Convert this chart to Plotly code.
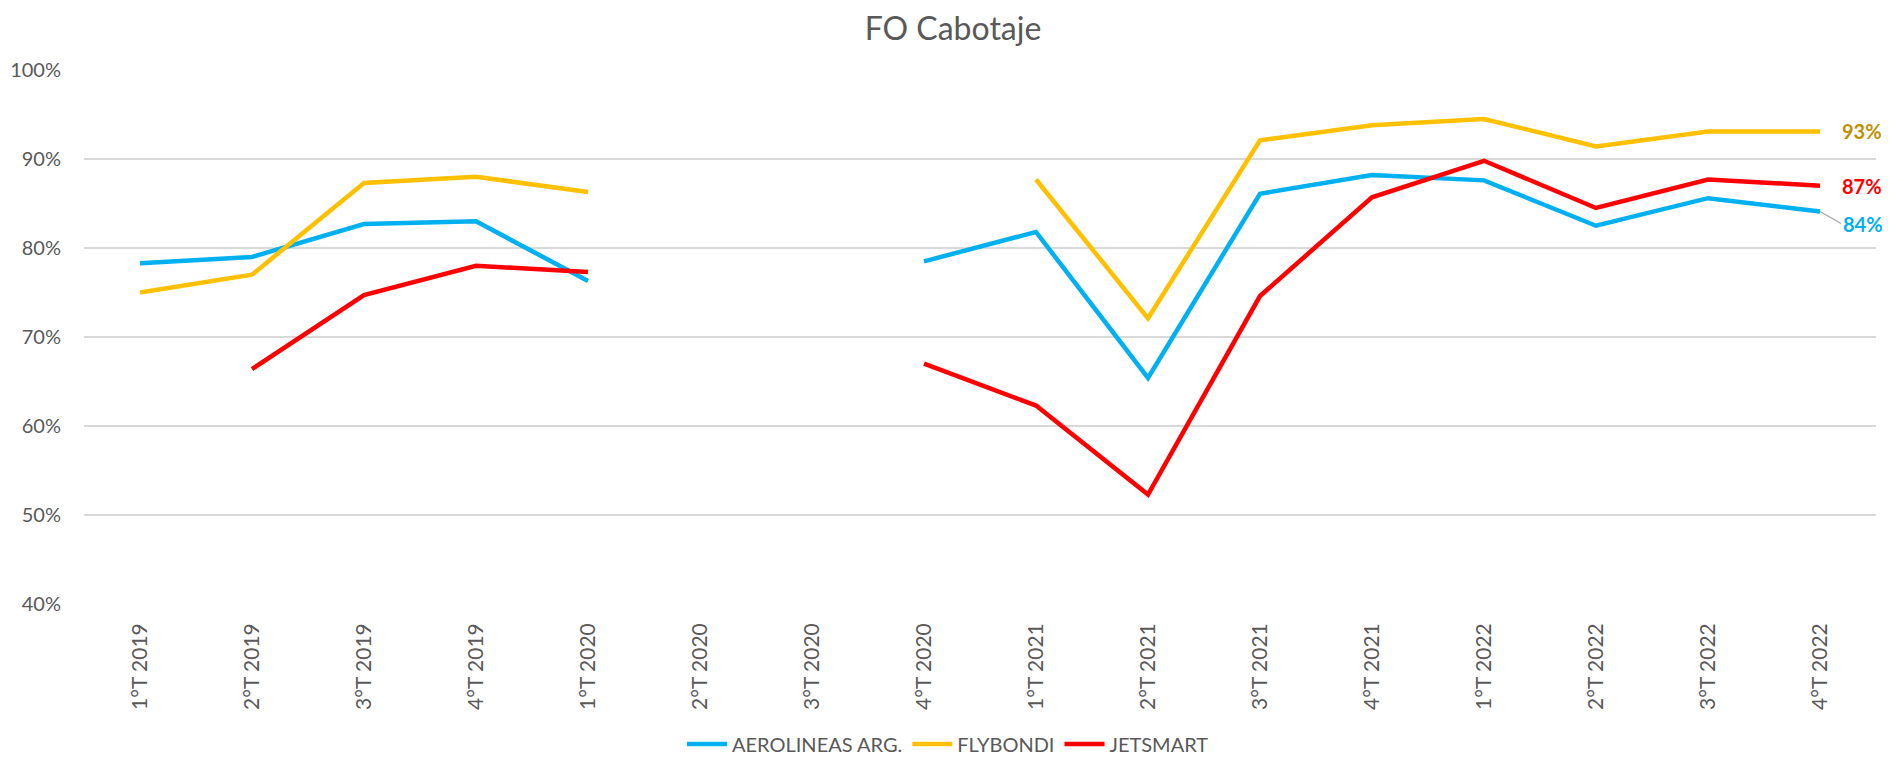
import plotly.graph_objects as go

categories = ["1°T 2019", "2°T 2019", "3°T 2019", "4°T 2019", "1°T 2020", "2°T 2020",
              "3°T 2020", "4°T 2020", "1°T 2021", "2°T 2021", "3°T 2021", "4°T 2021",
              "1°T 2022", "2°T 2022", "3°T 2022", "4°T 2022"]

aerolineas = [0.783, 0.790, 0.827, 0.830, 0.763, None, None, 0.785, 0.818, 0.654,
              0.861, 0.882, 0.876, 0.825, 0.856, 0.841]
flybondi = [0.750, 0.770, 0.873, 0.880, 0.863, None, None, None, 0.877, 0.721,
            0.921, 0.938, 0.945, 0.914, 0.931, 0.931]
jetsmart = [None, 0.664, 0.747, 0.780, 0.773, None, None, 0.670, 0.623, 0.523,
            0.746, 0.857, 0.898, 0.845, 0.877, 0.870]

series_names = ["AEROLINEAS ARG.", "FLYBONDI", "JETSMART"]
series_colors = ["#00B0F0", "#FFC000", "#FF0000"]
label_colors = ["#00B0F0", "#BF9000", "#FF0000"]
y_ticks = [0.4, 0.5, 0.6, 0.7, 0.8, 0.9, 1.0]

FONT = "Lato"
GREY = "#595959"

# page body has an 8px margin: figure drawn 8px smaller, coordinates shifted by 8
W, H = 1882, 747

fig = go.Figure()
for name, vals, col in zip(series_names, [aerolineas, flybondi, jetsmart], series_colors):
    fig.add_trace(go.Scatter(
        x=categories, y=vals, name=name, mode="lines",
        line=dict(color=col, width=4.5), connectgaps=False,
    ))

# end labels
ann = []
for vals, col in zip([flybondi, jetsmart], [label_colors[1], label_colors[2]]):
    ann.append(dict(x=categories[-1], y=vals[-1], xref="x", yref="y",
                    text=f"<b>{round(vals[-1]*100)}%</b>", showarrow=False,
                    xanchor="left", yanchor="middle", xshift=20,
                    font=dict(family=FONT, size=20, color=col)))
ann.append(dict(x=categories[-1], y=aerolineas[-1], xref="x", yref="y",
                text=f"<b>{round(aerolineas[-1]*100)}%</b>", showarrow=True,
                arrowhead=0, arrowwidth=1.2, arrowcolor="#A6A6A6", standoff=0,
                ax=21, ay=12, xanchor="left", yanchor="middle",
                font=dict(family=FONT, size=20, color=label_colors[0])))

fig.update_layout(
    width=W, height=H,
    paper_bgcolor="white", plot_bgcolor="white",
    margin=dict(l=76, r=14, t=62, b=151, autoexpand=False),
    title=dict(text="FO Cabotaje", x=945 / W, xanchor="center", xref="container",
               y=1 - 21 / H, yref="container", yanchor="middle",
               font=dict(family=FONT, size=32, color=GREY)),
    font=dict(family=FONT, size=20, color=GREY),
    showlegend=True,
    legend=dict(orientation="h", x=(940 - 76) / 1792, xanchor="center",
                y=-(736 - 596) / 534, yanchor="middle",
                font=dict(family=FONT, size=20, color=GREY), itemwidth=40,
                traceorder="normal"),
    annotations=ann,
)
fig.update_xaxes(type="category", range=[-0.5, 15.5], showgrid=False, showline=False,
                 zeroline=False, tickangle=-90, ticks="", ticklabelstandoff=14,
                 automargin=False,
                 tickfont=dict(family=FONT, size=21, color=GREY))
fig.update_yaxes(range=[0.4, 1.0], tickvals=y_ticks, tickformat=".0%", showgrid=True,
                 gridcolor="#D9D9D9", gridwidth=1.5, zeroline=False, showline=False,
                 ticks="", ticklabelstandoff=22, automargin=False,
                 tickfont=dict(family=FONT, size=20, color=GREY))

fig.write_html("out.html")
